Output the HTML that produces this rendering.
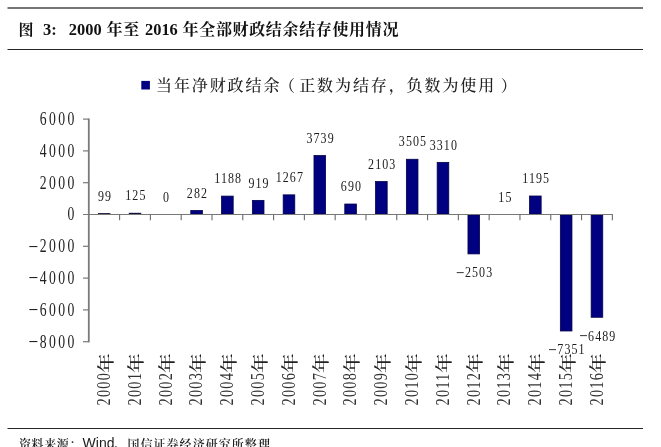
<!DOCTYPE html>
<html lang="zh-CN">
<head>
<meta charset="utf-8">
<title>图 3: 2000 年至 2016 年全部财政结余结存使用情况</title>
<style>
html,body{margin:0;padding:0;background:#fff;}
body{width:661px;height:447px;overflow:hidden;position:relative;}
svg{position:absolute;left:0;top:0;display:block;filter:blur(0.35px);}
text{font-family:"Liberation Serif", "Noto Serif CJK SC", serif;fill:#222;}
.t{font-weight:bold;font-size:16px;fill:#111;}
.lg{font-size:16px;fill:#222;font-weight:500;}
.yl{font-size:17.8px;fill:#222;letter-spacing:3.05px;}
.dl{font-size:14.8px;fill:#1c1c1c;letter-spacing:1.35px;}
.cl{font-size:18.6px;fill:#333;letter-spacing:1.6px;}
.ck{font-size:17.2px;fill:#222;font-weight:500;}
.ft{font-size:12px;fill:#1a1a1a;font-weight:600;}
.fa{font-family:"Liberation Sans", "Noto Sans CJK SC", sans-serif;font-style:normal;font-weight:normal;font-size:14px;}

</style>
</head>
<body>
<svg width="661" height="447" viewBox="0 0 661 447">
<rect x="0" y="0" width="661" height="447" fill="#ffffff"/>
<line x1="7.5" y1="7.9" x2="643" y2="7.9" stroke="#767676" stroke-width="2"/>
<line x1="7.5" y1="49.5" x2="643" y2="49.5" stroke="#262626" stroke-width="1.1"/>
<line x1="7.5" y1="428.5" x2="643" y2="428.5" stroke="#262626" stroke-width="1.1"/>
<text class="t" x="18.6" y="34.6"><tspan font-size="15px">图</tspan><tspan x="42.9" font-size="16.5px">3:</tspan><tspan x="68.8" font-size="16.4px">2000</tspan><tspan x="106.6" letter-spacing="0.65">年至</tspan><tspan x="145.0" font-size="16.4px">2016</tspan><tspan x="182.6" letter-spacing="0.65">年全部财政结余结存使用情况</tspan></text>
<rect x="141.3" y="80.9" width="8.6" height="8.6" fill="#000080"/>
<text class="lg" x="156" y="91.3" letter-spacing="1.9">当年净财政结余<tspan dx="-2.4">（</tspan><tspan dx="2.4">正数为结存，负数为使用</tspan><tspan dx="4.5">）</tspan></text>
<rect x="98.00" y="213.10" width="12.40" height="1.70" fill="#12123c"/>
<rect x="128.80" y="212.81" width="12.40" height="1.99" fill="#12123c"/>
<rect x="190.79" y="210.52" width="11.60" height="3.58" fill="#000080" stroke="#00004a" stroke-width="0.8"/>
<rect x="221.59" y="196.11" width="11.60" height="17.99" fill="#000080" stroke="#00004a" stroke-width="0.8"/>
<rect x="252.38" y="200.39" width="11.60" height="13.71" fill="#000080" stroke="#00004a" stroke-width="0.8"/>
<rect x="283.18" y="194.85" width="11.60" height="19.25" fill="#000080" stroke="#00004a" stroke-width="0.8"/>
<rect x="313.98" y="155.55" width="11.60" height="58.55" fill="#000080" stroke="#00004a" stroke-width="0.8"/>
<rect x="344.78" y="204.03" width="11.60" height="10.07" fill="#000080" stroke="#00004a" stroke-width="0.8"/>
<rect x="375.57" y="181.56" width="11.60" height="32.54" fill="#000080" stroke="#00004a" stroke-width="0.8"/>
<rect x="406.37" y="159.27" width="11.60" height="54.83" fill="#000080" stroke="#00004a" stroke-width="0.8"/>
<rect x="437.17" y="162.37" width="11.60" height="51.73" fill="#000080" stroke="#00004a" stroke-width="0.8"/>
<rect x="467.96" y="214.90" width="11.60" height="39.00" fill="#000080" stroke="#00004a" stroke-width="0.8"/>
<rect x="529.56" y="196.00" width="11.60" height="18.10" fill="#000080" stroke="#00004a" stroke-width="0.8"/>
<rect x="560.35" y="214.90" width="11.60" height="116.08" fill="#000080" stroke="#00004a" stroke-width="0.8"/>
<rect x="591.15" y="214.90" width="11.60" height="102.38" fill="#000080" stroke="#00004a" stroke-width="0.8"/>
<g fill="none">
<line x1="88.80" y1="118.50" x2="88.80" y2="342.30" stroke="#7a7a7a" stroke-width="1.8"/>
<line x1="83.00" y1="214.50" x2="612.85" y2="214.50" stroke="#787878" stroke-width="1.1"/>
<line x1="83.00" y1="341.70" x2="88.80" y2="341.70" stroke="#787878" stroke-width="1.2"/>
<line x1="83.00" y1="309.90" x2="88.80" y2="309.90" stroke="#787878" stroke-width="1.2"/>
<line x1="83.00" y1="278.10" x2="88.80" y2="278.10" stroke="#787878" stroke-width="1.2"/>
<line x1="83.00" y1="246.30" x2="88.80" y2="246.30" stroke="#787878" stroke-width="1.2"/>
<line x1="83.00" y1="182.70" x2="88.80" y2="182.70" stroke="#787878" stroke-width="1.2"/>
<line x1="83.00" y1="150.90" x2="88.80" y2="150.90" stroke="#787878" stroke-width="1.2"/>
<line x1="83.00" y1="119.10" x2="88.80" y2="119.10" stroke="#787878" stroke-width="1.2"/>
<line x1="119.60" y1="214.50" x2="119.60" y2="220.20" stroke="#6a6a6a" stroke-width="1.1"/>
<line x1="150.39" y1="214.50" x2="150.39" y2="220.20" stroke="#6a6a6a" stroke-width="1.1"/>
<line x1="181.19" y1="214.50" x2="181.19" y2="220.20" stroke="#6a6a6a" stroke-width="1.1"/>
<line x1="211.99" y1="214.50" x2="211.99" y2="220.20" stroke="#6a6a6a" stroke-width="1.1"/>
<line x1="242.79" y1="214.50" x2="242.79" y2="220.20" stroke="#6a6a6a" stroke-width="1.1"/>
<line x1="273.58" y1="214.50" x2="273.58" y2="220.20" stroke="#6a6a6a" stroke-width="1.1"/>
<line x1="304.38" y1="214.50" x2="304.38" y2="220.20" stroke="#6a6a6a" stroke-width="1.1"/>
<line x1="335.18" y1="214.50" x2="335.18" y2="220.20" stroke="#6a6a6a" stroke-width="1.1"/>
<line x1="365.97" y1="214.50" x2="365.97" y2="220.20" stroke="#6a6a6a" stroke-width="1.1"/>
<line x1="396.77" y1="214.50" x2="396.77" y2="220.20" stroke="#6a6a6a" stroke-width="1.1"/>
<line x1="427.57" y1="214.50" x2="427.57" y2="220.20" stroke="#6a6a6a" stroke-width="1.1"/>
<line x1="458.36" y1="214.50" x2="458.36" y2="220.20" stroke="#6a6a6a" stroke-width="1.1"/>
<line x1="489.16" y1="214.50" x2="489.16" y2="220.20" stroke="#6a6a6a" stroke-width="1.1"/>
<line x1="519.96" y1="214.50" x2="519.96" y2="220.20" stroke="#6a6a6a" stroke-width="1.1"/>
<line x1="550.76" y1="214.50" x2="550.76" y2="220.20" stroke="#6a6a6a" stroke-width="1.1"/>
<line x1="581.55" y1="214.50" x2="581.55" y2="220.20" stroke="#6a6a6a" stroke-width="1.1"/>
<line x1="612.35" y1="214.50" x2="612.35" y2="220.20" stroke="#6a6a6a" stroke-width="1.1"/>
</g>
<text class="yl" transform="translate(76.65,347.50) scale(0.77,1)" text-anchor="end"><tspan font-size="22.5px" dy="1.4" letter-spacing="2.2">−</tspan><tspan dy="-1.4">8000</tspan></text>
<text class="yl" transform="translate(76.65,315.70) scale(0.77,1)" text-anchor="end"><tspan font-size="22.5px" dy="1.4" letter-spacing="2.2">−</tspan><tspan dy="-1.4">6000</tspan></text>
<text class="yl" transform="translate(76.65,283.90) scale(0.77,1)" text-anchor="end"><tspan font-size="22.5px" dy="1.4" letter-spacing="2.2">−</tspan><tspan dy="-1.4">4000</tspan></text>
<text class="yl" transform="translate(76.65,252.10) scale(0.77,1)" text-anchor="end"><tspan font-size="22.5px" dy="1.4" letter-spacing="2.2">−</tspan><tspan dy="-1.4">2000</tspan></text>
<text class="yl" transform="translate(76.65,220.30) scale(0.77,1)" text-anchor="end">0</text>
<text class="yl" transform="translate(76.65,188.50) scale(0.77,1)" text-anchor="end">2000</text>
<text class="yl" transform="translate(76.65,156.70) scale(0.77,1)" text-anchor="end">4000</text>
<text class="yl" transform="translate(76.65,124.90) scale(0.77,1)" text-anchor="end">6000</text>
<text class="dl" transform="translate(105.05,200.63) scale(0.81,1)" text-anchor="middle">99</text>
<text class="dl" transform="translate(135.84,200.21) scale(0.81,1)" text-anchor="middle">125</text>
<text class="dl" transform="translate(166.64,202.20) scale(0.81,1)" text-anchor="middle">0</text>
<text class="dl" transform="translate(197.44,197.72) scale(0.81,1)" text-anchor="middle">282</text>
<text class="dl" transform="translate(228.23,183.31) scale(0.81,1)" text-anchor="middle">1188</text>
<text class="dl" transform="translate(259.03,187.59) scale(0.81,1)" text-anchor="middle">919</text>
<text class="dl" transform="translate(289.83,182.05) scale(0.81,1)" text-anchor="middle">1267</text>
<text class="dl" transform="translate(320.62,142.75) scale(0.81,1)" text-anchor="middle">3739</text>
<text class="dl" transform="translate(351.42,191.23) scale(0.81,1)" text-anchor="middle">690</text>
<text class="dl" transform="translate(382.22,168.76) scale(0.81,1)" text-anchor="middle">2103</text>
<text class="dl" transform="translate(413.02,146.47) scale(0.81,1)" text-anchor="middle">3505</text>
<text class="dl" transform="translate(443.81,149.57) scale(0.81,1)" text-anchor="middle">3310</text>
<text class="dl" transform="translate(474.61,277.20) scale(0.81,1)" text-anchor="middle"><tspan font-size="18.5px" dy="1.5" letter-spacing="0.6">−</tspan><tspan dy="-1.5">2503</tspan></text>
<text class="dl" transform="translate(505.41,201.96) scale(0.81,1)" text-anchor="middle">15</text>
<text class="dl" transform="translate(536.20,183.20) scale(0.81,1)" text-anchor="middle">1195</text>
<text class="dl" transform="translate(567.00,354.28) scale(0.81,1)" text-anchor="middle"><tspan font-size="18.5px" dy="1.5" letter-spacing="0.6">−</tspan><tspan dy="-1.5">7351</tspan></text>
<text class="dl" transform="translate(597.80,340.58) scale(0.81,1)" text-anchor="middle"><tspan font-size="18.5px" dy="1.5" letter-spacing="0.6">−</tspan><tspan dy="-1.5">6489</tspan></text>
<text class="cl" transform="translate(110.10,405.50) rotate(-90) scale(0.77,1)">2000</text>
<text class="ck" transform="translate(111.60,373.00) rotate(-90) scale(1.15,1)">年</text>
<text class="cl" transform="translate(140.90,405.50) rotate(-90) scale(0.77,1)">2001</text>
<text class="ck" transform="translate(142.40,373.00) rotate(-90) scale(1.15,1)">年</text>
<text class="cl" transform="translate(171.69,405.50) rotate(-90) scale(0.77,1)">2002</text>
<text class="ck" transform="translate(173.19,373.00) rotate(-90) scale(1.15,1)">年</text>
<text class="cl" transform="translate(202.49,405.50) rotate(-90) scale(0.77,1)">2003</text>
<text class="ck" transform="translate(203.99,373.00) rotate(-90) scale(1.15,1)">年</text>
<text class="cl" transform="translate(233.29,405.50) rotate(-90) scale(0.77,1)">2004</text>
<text class="ck" transform="translate(234.79,373.00) rotate(-90) scale(1.15,1)">年</text>
<text class="cl" transform="translate(264.08,405.50) rotate(-90) scale(0.77,1)">2005</text>
<text class="ck" transform="translate(265.58,373.00) rotate(-90) scale(1.15,1)">年</text>
<text class="cl" transform="translate(294.88,405.50) rotate(-90) scale(0.77,1)">2006</text>
<text class="ck" transform="translate(296.38,373.00) rotate(-90) scale(1.15,1)">年</text>
<text class="cl" transform="translate(325.68,405.50) rotate(-90) scale(0.77,1)">2007</text>
<text class="ck" transform="translate(327.18,373.00) rotate(-90) scale(1.15,1)">年</text>
<text class="cl" transform="translate(356.48,405.50) rotate(-90) scale(0.77,1)">2008</text>
<text class="ck" transform="translate(357.98,373.00) rotate(-90) scale(1.15,1)">年</text>
<text class="cl" transform="translate(387.27,405.50) rotate(-90) scale(0.77,1)">2009</text>
<text class="ck" transform="translate(388.77,373.00) rotate(-90) scale(1.15,1)">年</text>
<text class="cl" transform="translate(418.07,405.50) rotate(-90) scale(0.77,1)">2010</text>
<text class="ck" transform="translate(419.57,373.00) rotate(-90) scale(1.15,1)">年</text>
<text class="cl" transform="translate(448.87,405.50) rotate(-90) scale(0.77,1)">2011</text>
<text class="ck" transform="translate(450.37,373.00) rotate(-90) scale(1.15,1)">年</text>
<text class="cl" transform="translate(479.66,405.50) rotate(-90) scale(0.77,1)">2012</text>
<text class="ck" transform="translate(481.16,373.00) rotate(-90) scale(1.15,1)">年</text>
<text class="cl" transform="translate(510.46,405.50) rotate(-90) scale(0.77,1)">2013</text>
<text class="ck" transform="translate(511.96,373.00) rotate(-90) scale(1.15,1)">年</text>
<text class="cl" transform="translate(541.26,405.50) rotate(-90) scale(0.77,1)">2014</text>
<text class="ck" transform="translate(542.76,373.00) rotate(-90) scale(1.15,1)">年</text>
<text class="cl" transform="translate(572.05,405.50) rotate(-90) scale(0.77,1)">2015</text>
<text class="ck" transform="translate(573.55,373.00) rotate(-90) scale(1.15,1)">年</text>
<text class="cl" transform="translate(602.85,405.50) rotate(-90) scale(0.77,1)">2016</text>
<text class="ck" transform="translate(604.35,373.00) rotate(-90) scale(1.15,1)">年</text>
<text class="ft" x="19" y="448.7"><tspan letter-spacing="0.6">资料来源：</tspan><tspan class="fa" x="82.6" y="448.2">Wind</tspan><tspan x="114.4" y="448.4">、</tspan><tspan x="127.4" y="448.7" letter-spacing="1.05">国信证券经济研究所整理</tspan></text>
</svg>
</body>
</html>
